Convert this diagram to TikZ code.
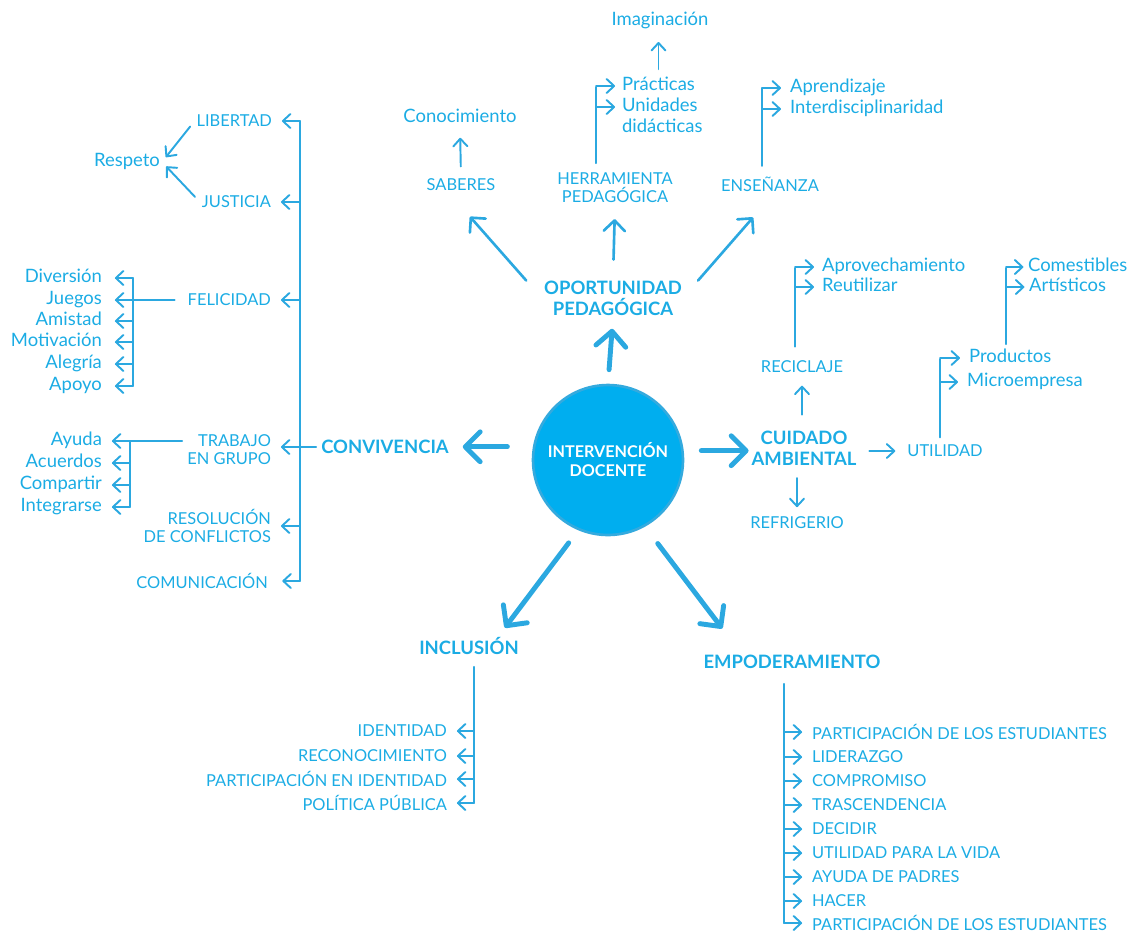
\documentclass[tikz,border=0pt]{standalone}
\usepackage{fontspec}
\setmainfont{Lato}
\usepackage{tikz}
\usetikzlibrary{arrows.meta}

\definecolor{inkblue}{RGB}{27,172,228}
\definecolor{linkblue}{RGB}{43,168,224}
\definecolor{hubfill}{RGB}{0,174,239}
\definecolor{hubrim}{RGB}{52,170,222}

\begin{document}
\begin{tikzpicture}[x=0.02cm,y=-0.02cm,
	hub/.style={circle,fill=hubfill,draw=hubrim,line width=1.5pt,minimum size=3cm,inner sep=0pt,
		text=white,align=center,font=\fontsize{9.2}{10.8}\selectfont\bfseries},
	topic/.style={text=inkblue,inner sep=1pt,align=center,font=\fontsize{10.5}{11.9}\selectfont\bfseries},
	tag/.style={text=inkblue,inner sep=1pt,align=center,font=\fontsize{9.35}{10.2}\selectfont},
	leaf/.style={text=inkblue,inner sep=1pt,text height=7.7pt,text depth=2.4pt,font=\fontsize{10.5}{11.5}\selectfont},
	rail/.style={color=linkblue,line width=1.1pt,line cap=round},
	leafarr/.style={rail,-{Straight Barb[length=4.3pt,width=8pt,round]}},
	midarr/.style={color=linkblue,line width=1.5pt,line cap=round,-{Straight Barb[length=6pt,width=12pt,round]}},
	bigarr/.style={color=linkblue,line width=2.8pt,line cap=round,-{Straight Barb[length=8.5pt,width=17pt,round]}}]
	\useasboundingbox (0,0) rectangle (1132,934);
	%
	\node[hub] (hub) at (608,460) {INTERVENCIÓN\\DOCENTE};
	\node[topic] (oport) at (613,298) {OPORTUNIDAD\\PEDAGÓGICA};
	\node[topic] (conv) at (385,447) {CONVIVENCIA};
	\node[topic] (cuid) at (804,448) {CUIDADO\\AMBIENTAL};
	\node[topic] (incl) at (469,646) {INCLUSIÓN};
	\node[topic] (empo) at (792,662) {EMPODERAMIENTO};
	% oportunidad pedagogica
	\node[tag] (sab) at (461,185) {SABERES};
	\node[leaf] (cono) at (460,118) {Conocimiento};
	\node[tag] (herr) at (615,188) {HERRAMIENTA\\PEDAGÓGICA};
	\node[leaf,anchor=west] (prac) at (620,86) {Prácticas};
	\node[leaf,anchor=west] (unid) at (620,107) {Unidades};
	\node[leaf,anchor=west] (dida) at (620,128) {didácticas};
	\node[leaf] (imag) at (660,21) {Imaginación};
	\node[tag] (ens) at (770,184) {ENSEÑANZA};
	\node[leaf,anchor=west] (apre) at (788,88) {Aprendizaje};
	\node[leaf,anchor=west] (inter) at (788,109) {Interdisciplinaridad};
	% cuidado ambiental
	\node[tag] (recic) at (802,367) {RECICLAJE};
	\node[leaf,anchor=west] (aprov) at (820,267) {Aprovechamiento};
	\node[leaf,anchor=west] (reut) at (820,287) {Reutilizar};
	\node[tag] (refri) at (797,523) {REFRIGERIO};
	\node[tag] (util) at (945,451) {UTILIDAD};
	\node[leaf,anchor=west] (prod) at (967,358) {Productos};
	\node[leaf,anchor=west] (micro) at (965,382) {Microempresa};
	\node[leaf,anchor=west] (come) at (1026,267) {Comestibles};
	\node[leaf,anchor=west] (arti) at (1027,287) {Artísticos};
	% convivencia
	\node[tag,anchor=east] (lib) at (274,121) {LIBERTAD};
	\node[tag,anchor=east] (just) at (273,202) {JUSTICIA};
	\node[tag,anchor=east] (feli) at (273,300) {FELICIDAD};
	\node[tag,anchor=east,align=right] (trab) at (273,450) {TRABAJO\\EN GRUPO};
	\node[tag,anchor=east,align=right] (reso) at (273,526) {RESOLUCIÓN\\DE CONFLICTOS};
	\node[tag,anchor=east] (comu) at (270,581) {COMUNICACIÓN};
	\node[leaf] (resp) at (127,162) {Respeto};
	\node[leaf,anchor=east] (div) at (104,278) {Diversión};
	\node[leaf,anchor=east] (jueg) at (104,300) {Juegos};
	\node[leaf,anchor=east] (amis) at (104,321) {Amistad};
	\node[leaf,anchor=east] (moti) at (104,342) {Motivación};
	\node[leaf,anchor=east] (aleg) at (104,364) {Alegría};
	\node[leaf,anchor=east] (apoy) at (104,386) {Apoyo};
	\node[leaf,anchor=east] (ayud) at (104,441) {Ayuda};
	\node[leaf,anchor=east] (acue) at (104,463) {Acuerdos};
	\node[leaf,anchor=east] (comp) at (104,485) {Compartir};
	\node[leaf,anchor=east] (inte) at (104,507) {Integrarse};
	% inclusion
	\node[tag,anchor=east] (ident) at (449,731) {IDENTIDAD};
	\node[tag,anchor=east] (recon) at (449,756) {RECONOCIMIENTO};
	\node[tag,anchor=east] (parid) at (449,779) {PARTICIPACIÓN EN IDENTIDAD};
	\node[tag,anchor=east] (polit) at (449,803) {POLÍTICA PÚBLICA};
	% empoderamiento
	\node[tag,anchor=west] (emp1) at (810,732) {PARTICIPACIÓN DE LOS ESTUDIANTES};
	\node[tag,anchor=west] (emp2) at (810,757) {LIDERAZGO};
	\node[tag,anchor=west] (emp3) at (810,781) {COMPROMISO};
	\node[tag,anchor=west] (emp4) at (810,805) {TRASCENDENCIA};
	\node[tag,anchor=west] (emp5) at (810,829) {DECIDIR};
	\node[tag,anchor=west] (emp6) at (810,853) {UTILIDAD PARA LA VIDA};
	\node[tag,anchor=west] (emp7) at (810,877) {AYUDA DE PADRES};
	\node[tag,anchor=west] (emp8) at (810,901) {HACER};
	\node[tag,anchor=west] (emp9) at (810,923) {PARTICIPACIÓN DE LOS ESTUDIANTES};
	%
	\coordinate (herr bar) at (596,87);
	\coordinate (ens bar) at (762,88);
	\coordinate (recic bar) at (795,268);
	\coordinate (util bar) at (940,359);
	\coordinate (prod bar) at (1006,268);
	\coordinate (conv bar) at (300,121);
	\coordinate (feli bar) at (133,300);
	\coordinate (trab bar) at (130,441);
	\coordinate (incl bar) at (474,803);
	\coordinate (empo bar) at (784,923);
	%
	% thick arrows out of the hub
	\draw[bigarr,shorten <=8pt,shorten >=6.5pt] (hub.north) -- (oport.south);
	\draw[bigarr,shorten <=14.5pt,shorten >=6.8pt] (hub.170) -- (conv.east |- hub.170);
	\draw[bigarr,shorten <=10pt,shorten >=0.5pt] (hub.7) -- (cuid.west |- hub.7);
	\draw[bigarr,shorten <=9pt] (hub.247) -- ([shift={(20.4pt,4.3pt)}]incl.north);
	\draw[bigarr,shorten <=12pt] (hub.299) -- ([shift={(-39.7pt,14pt)}]empo.north);
	% oportunidad pedagogica
	\draw[midarr] ([shift={(-9pt,-1.1pt)}]oport.north west) -- ([shift={(5.1pt,-13.4pt)}]sab.south);
	\draw[midarr,shorten <=10.8pt,shorten >=8pt] (oport.north) -- (herr.south);
	\draw[midarr] ([shift={(8pt,-1.1pt)}]oport.north east) -- ([shift={(-9.6pt,-13.6pt)}]ens.south);
	\draw[leafarr,shorten <=6pt,shorten >=5pt] (sab.north) -- (cono.south);
	\draw[leafarr,shorten <=3.4pt,shorten >=5.7pt] (prac.north) -- (prac.north |- imag.south);
	\draw[rail,shorten <=4.4pt] (herr bar |- herr.north) -- (herr bar);
	\path[leafarr,shorten >=2.8pt]
	(herr bar |- prac) edge (prac.west)
	(herr bar |- unid) edge (unid.west);
	\draw[rail,shorten <=5pt] (ens bar |- ens.north) -- (ens bar);
	\path[leafarr,shorten >=4pt]
	(ens bar |- apre) edge (apre.west)
	(ens bar |- inter) edge (inter.west);
	% cuidado ambiental
	\draw[leafarr,shorten <=8pt,shorten >=6pt] (cuid.north -| recic.south) -- (recic.south);
	\draw[leafarr,shorten <=6.2pt,shorten >=4.4pt] (cuid.south -| refri.north) -- (refri.north);
	\draw[leafarr,shorten <=6.2pt,shorten >=5.7pt] (cuid.east |- util) -- (util.west);
	\draw[rail,shorten <=7pt] (recic bar |- recic.north) -- (recic bar);
	\path[leafarr,shorten >=3.4pt]
	(recic bar |- aprov) edge (aprov.west)
	(recic bar |- reut) edge (reut.west);
	\draw[rail,shorten <=3.2pt] (util bar |- util.north) -- (util bar);
	\path[leafarr,shorten >=4pt]
	(util bar |- prod) edge (prod.west)
	(util bar |- micro) edge (micro.west);
	\draw[rail,shorten <=1.7pt] (prod bar |- prod.north) -- (prod bar);
	\path[leafarr,shorten >=1.5pt]
	(prod bar |- come) edge (come.west)
	(prod bar |- arti) edge (arti.west);
	% convivencia
	\draw[rail] (conv bar) -- (conv bar |- comu);
	\draw[rail,shorten <=1.7pt] (conv.west) -- (conv bar |- conv.west);
	\path[leafarr,shorten >=4.5pt]
	(conv bar |- lib) edge (lib.east)
	(conv bar |- just) edge (just.east)
	(conv bar |- feli) edge (feli.east)
	(conv bar |- conv.west) edge (trab.east |- conv.west)
	(conv bar |- reso) edge (reso.east)
	(conv bar |- comu) edge[shorten >=7pt] (comu.east);
	\path[leafarr,shorten <=4pt,shorten >=3.5pt]
	(lib.west) edge (resp.east)
	(just.west) edge (resp.east);
	\draw[rail,shorten <=6.2pt] (feli.west) -- (feli bar);
	\draw[rail] (feli bar |- div) -- (feli bar |- apoy);
	\path[leafarr,shorten >=6.2pt]
	(feli bar |- div) edge (div.east)
	(feli bar |- jueg) edge (jueg.east)
	(feli bar |- amis) edge (amis.east)
	(feli bar |- moti) edge (moti.east)
	(feli bar |- aleg) edge (aleg.east)
	(feli bar |- apoy) edge (apoy.east);
	\draw[rail,shorten <=1.7pt] (trab.west |- ayud) -- (trab bar);
	\draw[rail] (trab bar) -- (trab bar |- inte);
	\path[leafarr,shorten >=4.5pt]
	(trab bar |- ayud) edge (ayud.east)
	(trab bar |- acue) edge (acue.east)
	(trab bar |- comp) edge (comp.east)
	(trab bar |- inte) edge (inte.east);
	% inclusion
	\draw[rail,shorten <=5.7pt] (incl bar |- incl.south) -- (incl bar);
	\path[leafarr,shorten >=4.5pt]
	(incl bar |- ident) edge (ident.east)
	(incl bar |- recon) edge (recon.east)
	(incl bar |- parid) edge (parid.east)
	(incl bar |- polit) edge (polit.east);
	% empoderamiento
	\draw[rail,shorten <=7.4pt] (empo bar |- empo.south) -- (empo bar);
	\path[leafarr,shorten >=4.5pt]
	(empo bar |- emp1) edge (emp1.west)
	(empo bar |- emp2) edge (emp2.west)
	(empo bar |- emp3) edge (emp3.west)
	(empo bar |- emp4) edge (emp4.west)
	(empo bar |- emp5) edge (emp5.west)
	(empo bar |- emp6) edge (emp6.west)
	(empo bar |- emp7) edge (emp7.west)
	(empo bar |- emp8) edge (emp8.west)
	(empo bar |- emp9) edge (emp9.west);
\end{tikzpicture}
\end{document}
